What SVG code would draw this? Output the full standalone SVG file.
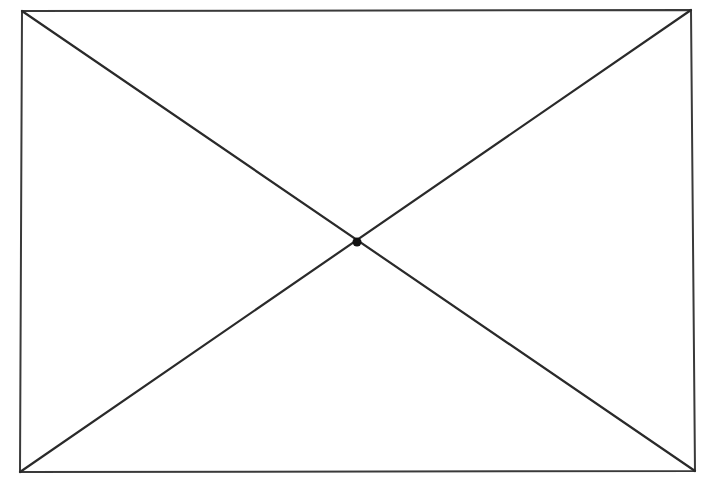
<svg xmlns="http://www.w3.org/2000/svg" width="720" height="498" viewBox="0 0 720 498">
<style>
.frame{fill:none;stroke:#3a3a3a;stroke-width:2;stroke-linejoin:round}
.diag{stroke:#2a2a2a;stroke-width:2.2;stroke-linecap:round}
</style>
<rect width="720" height="498" fill="#ffffff"/>
<polygon class="frame" points="22,11 691,10 695,471 20,472"/>
<g id="connectors">
<line class="diag" x1="22" y1="11" x2="695" y2="471"/>
<line class="diag" x1="691" y1="10" x2="20" y2="472"/>
</g>
<g id="center">
<circle cx="357" cy="242" r="4.5" fill="#111"/>
</g>
</svg>
